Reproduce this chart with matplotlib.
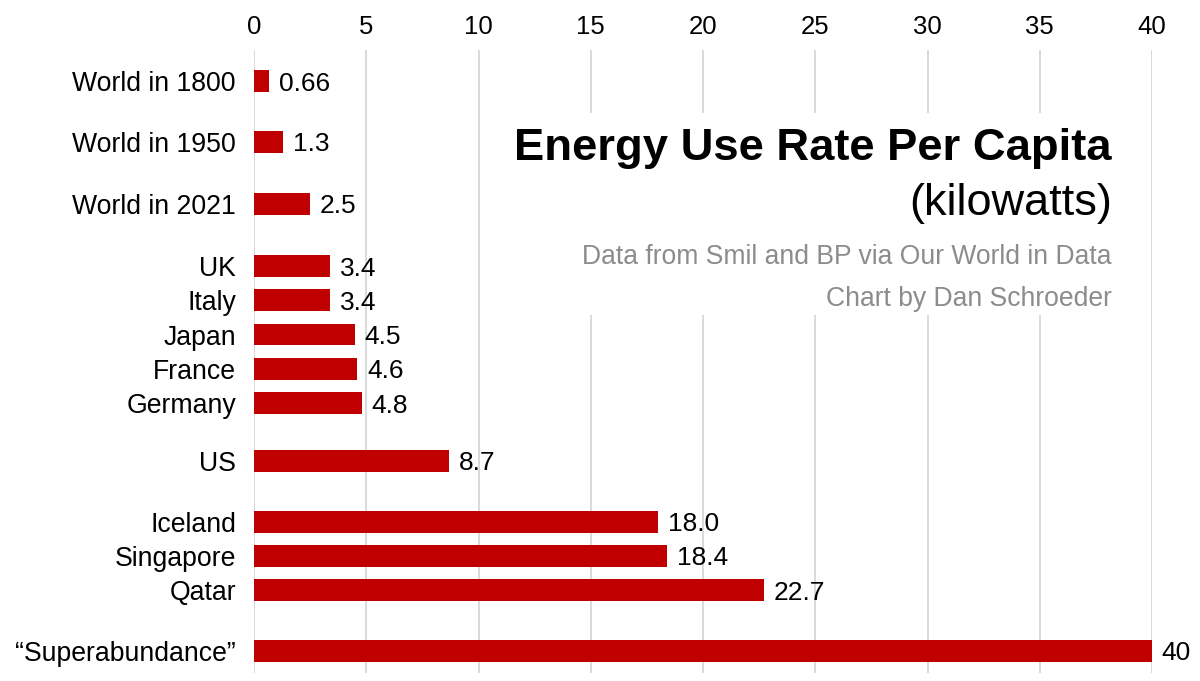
import matplotlib
matplotlib.use("Agg")
import matplotlib.pyplot as plt
from matplotlib.patches import Rectangle

plt.rcParams["font.family"] = ["Liberation Sans", "DejaVu Sans"]

# data
categories = ["World in 1800", "World in 1950", "World in 2021",
              "UK", "Italy", "Japan", "France", "Germany",
              "US",
              "Iceland", "Singapore", "Qatar",
              "\u201cSuperabundance\u201d"]
values = [0.66, 1.3, 2.5, 3.4, 3.4, 4.5, 4.6, 4.8, 8.7, 18.0, 18.4, 22.7, 40]
value_labels = ["0.66", "1.3", "2.5", "3.4", "3.4", "4.5", "4.6", "4.8",
                "8.7", "18.0", "18.4", "22.7", "40"]
xticks = [0, 5, 10, 15, 20, 25, 30, 35, 40]

# layout: row positions with wider gaps between groups
ypos = [0, 1.78, 3.59, 5.4, 6.4, 7.4, 8.4, 9.4, 11.09, 12.86, 13.86, 14.86, 16.63]

RED = "#c00000"
W, H = 1200, 681

fig = plt.figure(figsize=(12, 6.81), dpi=100)
ax = fig.add_axes([254 / W, 1 - 673 / H, (1152 - 254) / W, (673 - 50) / H])

ax.barh(ypos, values, height=0.64, color=RED, zorder=2)
for y, v, s in zip(ypos, values, value_labels):
    ax.annotate(s, (v, y), xytext=(7, 0), textcoords="offset points",
                ha="left", va="center_baseline", fontsize=19, color="black", zorder=3)

ax.set_xlim(0, 40)
ax.set_ylim(17.28, -0.905)
ax.set_yticks(ypos)
ax.set_yticklabels(categories, fontsize=19.2)
for lab in ax.get_yticklabels():
    lab.set_verticalalignment("center_baseline")
ax.set_xticks(xticks)
ax.xaxis.tick_top()
ax.tick_params(axis="x", length=0, pad=8, labelsize=18.5)
ax.tick_params(axis="y", length=0, pad=13)
for sp in ax.spines.values():
    sp.set_visible(False)
ax.set_axisbelow(True)
ax.grid(axis="x", color="#d9d9d9", linewidth=1.4)
ax.grid(axis="y", visible=False)

# white box behind the title block that hides the grid there
ax.add_patch(Rectangle((10.96, 0.93), 39.45 - 10.96, 6.83 - 0.93,
                       facecolor="white", edgecolor="none", zorder=1))

xr = 1112 / W
fig.text(xr, 1 - 160 / H, "Energy Use Rate Per Capita", ha="right", va="baseline",
         fontsize=32.7, fontweight="bold", color="black")
fig.text(xr, 1 - 215 / H, "(kilowatts)", ha="right", va="baseline",
         fontsize=32.5, color="black")
fig.text(xr, 1 - 264 / H, "Data from Smil and BP via Our World in Data", ha="right",
         va="baseline", fontsize=19.1, color="#8c8c8c")
fig.text(xr, 1 - 306 / H, "Chart by Dan Schroeder", ha="right",
         va="baseline", fontsize=19.1, color="#8c8c8c")

fig.savefig("out.png", dpi=100, facecolor="white")
